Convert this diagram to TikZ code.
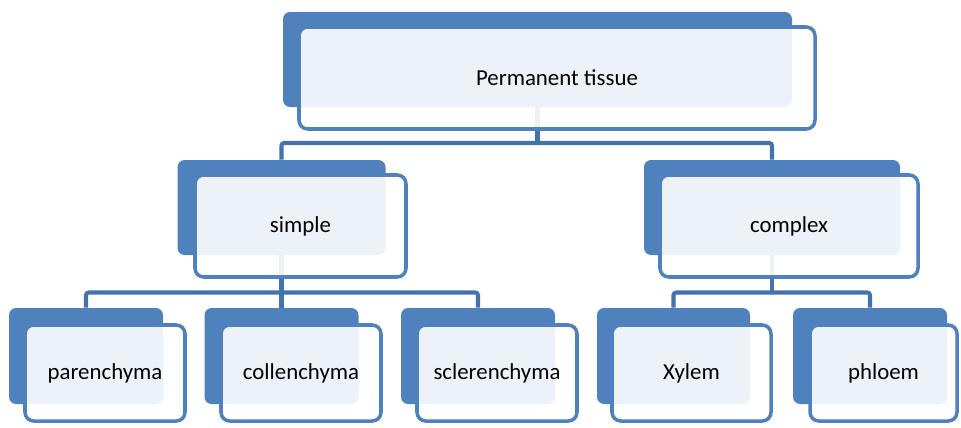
\documentclass[tikz,border=0pt]{standalone}
\usepackage{fontspec}
\setmainfont{Carlito}
\usetikzlibrary{calc}

\definecolor{tblue}{RGB}{79,129,189}
\definecolor{tline}{RGB}{68,114,174}

\begin{document}
\begin{tikzpicture}[
  back/.style={rectangle, rounded corners=4pt, fill=tblue, inner sep=0pt, minimum height=1.9cm},
  front/.style={rectangle, rounded corners=5pt, draw=tblue, line width=2pt, fill=white, fill opacity=0.9, text opacity=1, inner sep=0pt, minimum height=2.04cm, font=\fontsize{13}{15}\selectfont},
  conn/.style={draw=tline, line width=2.3pt, rounded corners=1.5pt}
]
\useasboundingbox (0,0) rectangle (19.22,-8.54);

% back plates
\node[back, minimum width=10.18cm] (Tb) at (10.75,-1.19) {};
\node[back, minimum width=4.16cm] (Sb) at (5.63,-4.15) {};
\node[back, minimum width=5.12cm] (Cb) at (15.44,-4.15) {};
\node[back, minimum width=3.08cm, minimum height=1.92cm] (Pab) at (1.72,-7.12) {};
\node[back, minimum width=3.08cm, minimum height=1.92cm] (Cob) at (5.63,-7.12) {};
\node[back, minimum width=3.08cm, minimum height=1.92cm] (Scb) at (9.56,-7.12) {};
\node[back, minimum width=3.06cm, minimum height=1.92cm] (Xb) at (13.47,-7.12) {};
\node[back, minimum width=3.08cm, minimum height=1.92cm] (Phb) at (17.40,-7.12) {};

% connectors
\coordinate (Tbar) at (10.75,-2.86);
\coordinate (Sbar) at (5.63,-5.85);
\coordinate (Cbar) at (15.44,-5.85);

\draw[conn] (Tb.south) -- (Tbar);
\draw[conn] (Sb.north) |- (Tbar) -| (Cb.north);
\draw[conn] (Sb.south) -- (Sbar);
\draw[conn] (Pab.north) |- (Sbar) -| (Scb.north);
\draw[conn] (Cob.north) -- (Sbar);
\draw[conn] (Cb.south) -- (Cbar);
\draw[conn] (Xb.north) |- (Cbar) -| (Phb.north);

% front boxes
\node[front, minimum width=10.32cm] (T) at (11.14,-1.56) {Permanent tissue};
\node[front, minimum width=4.22cm] (S) at (6.01,-4.52) {simple};
\node[front, minimum width=5.16cm] (C) at (15.78,-4.52) {complex};
\node[front, minimum width=3.2cm, minimum height=1.92cm] (Pa) at (2.10,-7.46) {parenchyma};
\node[front, minimum width=3.2cm, minimum height=1.92cm] (Co) at (6.02,-7.46) {collenchyma};
\node[front, minimum width=3.2cm, minimum height=1.92cm] (Sc) at (9.94,-7.46) {sclerenchyma};
\node[front, minimum width=3.18cm, minimum height=1.92cm] (X) at (13.83,-7.46) {Xylem};
\node[front, minimum width=2.94cm, minimum height=1.92cm] (Ph) at (17.67,-7.46) {phloem};

\end{tikzpicture}
\end{document}
